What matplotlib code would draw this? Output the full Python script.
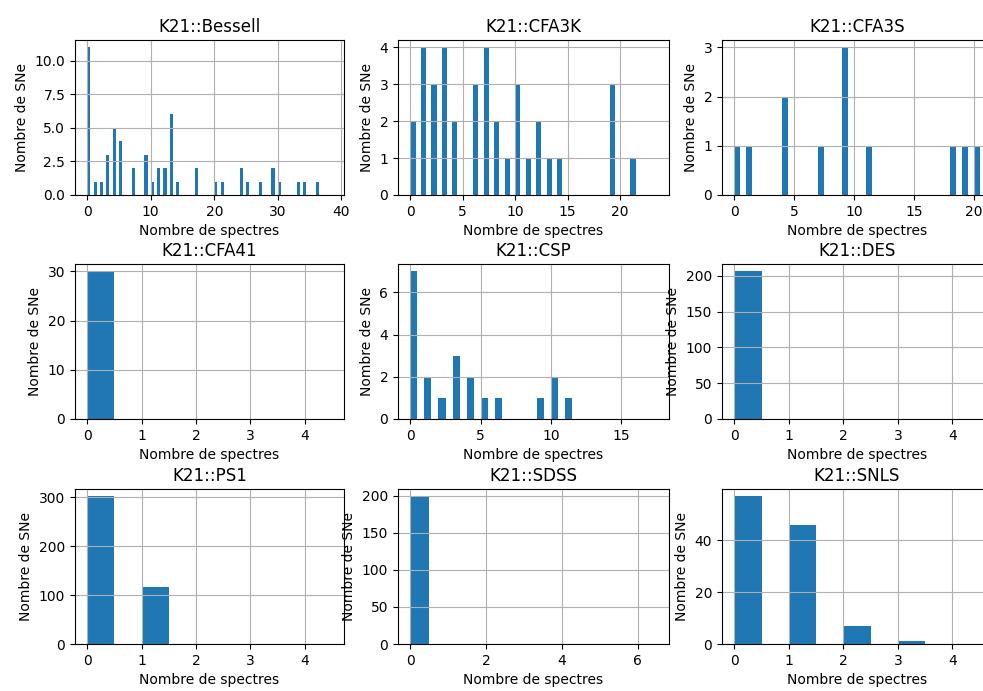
import matplotlib
matplotlib.use("Agg")
import matplotlib.pyplot as plt
import numpy as np

# nombre de spectres (valeurs) et nombre de SNe par valeur, pour chaque relevé
surveys = ["K21::Bessell", "K21::CFA3K", "K21::CFA3S",
           "K21::CFA41", "K21::CSP", "K21::DES",
           "K21::PS1", "K21::SDSS", "K21::SNLS"]

bessell_n = [0, 1, 2, 3, 4, 5, 7, 9, 10, 11, 12, 13, 14, 17, 20, 21, 24, 25, 27, 29, 30, 33, 34, 36]
bessell_c = [11, 1, 1, 3, 5, 4, 2, 3, 1, 2, 2, 6, 1, 2, 1, 1, 2, 1, 1, 2, 1, 1, 1, 1]

cfa3k_n = [0, 1, 2, 3, 4, 6, 7, 8, 9, 10, 11, 12, 13, 14, 19, 21]
cfa3k_c = [2, 4, 3, 4, 2, 3, 4, 2, 1, 3, 1, 2, 1, 1, 3, 1]

cfa3s_n = [0, 1, 4, 7, 9, 11, 18, 19, 20]
cfa3s_c = [1, 1, 2, 1, 3, 1, 1, 1, 1]

cfa41_n = [0]
cfa41_c = [30]

csp_n = [0, 1, 2, 3, 4, 5, 6, 9, 10, 11]
csp_c = [7, 2, 1, 3, 2, 1, 1, 1, 2, 1]

des_n = [0]
des_c = [206]

ps1_n = [0, 1]
ps1_c = [302, 116]

sdss_n = [0]
sdss_c = [199]

snls_n = [0, 1, 2, 3]
snls_c = [57, 46, 7, 1]

# borne haute des bins (pas de 0.5)
x_max = [38.5, 23.5, 20.5, 4.5, 17.5, 4.5, 4.5, 6.5, 4.5]

values = [bessell_n, cfa3k_n, cfa3s_n, cfa41_n, csp_n, des_n, ps1_n, sdss_n, snls_n]
counts = [bessell_c, cfa3k_c, cfa3s_c, cfa41_c, csp_c, des_c, ps1_c, sdss_c, snls_c]

W, H = 983, 691
fig = plt.figure(figsize=(W / 100, H / 100), dpi=100)

lefts = [75, 398, 722]
widths = [269, 271, 270]
tops = [40, 264, 489]
ax_h = 155

for i in range(9):
    r, c = divmod(i, 3)
    ax = fig.add_axes([lefts[c] / W, (H - tops[r] - ax_h) / H, widths[c] / W, ax_h / H])
    bins = np.arange(0, x_max[i] + 0.25, 0.5)
    ax.hist(values[i], bins=bins, weights=counts[i], color="#1f77b4")
    ax.grid(True)
    ax.set_title(surveys[i], fontsize=12)
    ax.set_xlabel("Nombre de spectres")
    ax.set_ylabel("Nombre de SNe")

fig.savefig("out.png", dpi=100)
